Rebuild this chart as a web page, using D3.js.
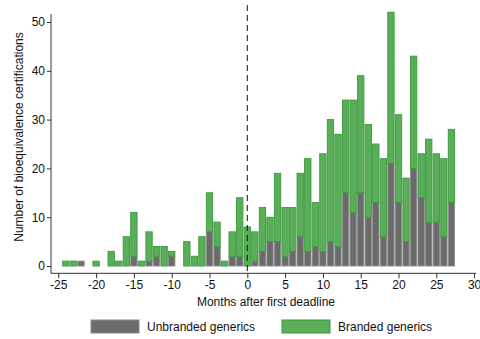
<!DOCTYPE html>
<html>
<head>
<meta charset="utf-8">
<script src="https://cdn.jsdelivr.net/npm/d3@7"></script>
<style>
  html, body { margin: 0; padding: 0; background: #fff; }
  svg { display: block; font-family: "Liberation Sans", Arial, Helvetica, sans-serif; }
</style>
</head>
<body>
<svg id="chart" width="480" height="339"></svg>
<script>
// Months relative to the first deadline
const months = d3.range(-24, 28);

// Certifications per month, unbranded generics
const unbranded = [
  0, 0, 1, 0, 0, 0, 0, 0, 0, 2, 0, 1, 2, 0, 2, 0, 0, 0, 0, 7, 4, 0, 2, 2,
  0, 1, 3, 5, 5, 2, 3, 6, 3, 4, 3, 5, 4, 15, 11, 15, 10, 13, 6, 21, 13, 5, 20, 14, 9, 9, 6, 13
];

// Certifications per month, branded generics
const branded = [
  1, 1, 0, 0, 1, 0, 3, 1, 6, 9, 1, 6, 2, 4, 1, 0, 5, 2, 6, 8, 5, 1, 5, 12,
  8, 6, 9, 5, 14, 10, 9, 13, 19, 9, 20, 25, 23, 19, 23, 24, 19, 12, 16, 31, 18, 13, 23, 9, 17, 14, 16, 15
];

const xTicks = [-25, -20, -15, -10, -5, 0, 5, 10, 15, 20, 25, 30];
const yTicks = [0, 10, 20, 30, 40, 50];
const seriesNames = ["Unbranded generics", "Branded generics"];
const seriesColors = { fill: ["#6b6b6b", "#5aae5a"], stroke: ["#8c8c8c", "#3a9a3a"] };

const svg = d3.select("#chart");

const x = d3.scaleLinear().domain([-25, 30]).range([58.3, 474.1]);
const y = d3.scaleLinear().domain([0, 50]).range([266, 22]);

const rows = months.map((m, i) => ({ month: m, unbranded: unbranded[i], branded: branded[i] }));
const stack = d3.stack().keys(["unbranded", "branded"])(rows);

const barW = (x(1) - x(0)) * 0.84;

// Stacked bars
stack.forEach((layer, li) => {
  svg.append("g")
    .selectAll("rect")
    .data(layer.filter(d => d[1] - d[0] > 0))
    .join("rect")
      .attr("x", d => x(d.data.month) - barW / 2)
      .attr("width", barW)
      .attr("y", d => y(d[1]))
      .attr("height", d => y(d[0]) - y(d[1]))
      .attr("fill", seriesColors.fill[li])
      .attr("stroke", seriesColors.stroke[li])
      .attr("stroke-width", 0.9);
});

// Reference line at the first deadline
svg.append("line")
  .attr("x1", x(0)).attr("x2", x(0))
  .attr("y1", 5).attr("y2", y(-1.5))
  .attr("stroke", "#111")
  .attr("stroke-width", 1)
  .attr("stroke-dasharray", "6,4");

// Axes
const axisLeftX = 51;
const axisBottomY = y(-1.5);
const plainFormat = d => String(d);

const gx = svg.append("g")
  .attr("transform", `translate(0,${axisBottomY})`)
  .call(d3.axisBottom(x).tickValues(xTicks).tickFormat(plainFormat)
    .tickSize(5).tickPadding(2).tickSizeOuter(0));
gx.select(".domain").attr("d", `M${axisLeftX},0H476`);

const gy = svg.append("g")
  .attr("transform", `translate(${axisLeftX},0)`)
  .call(d3.axisLeft(y).tickValues(yTicks).tickFormat(plainFormat)
    .tickSize(4).tickPadding(2).tickSizeOuter(0));
gy.select(".domain").attr("d", `M0,${y(51.65)}V${axisBottomY}`);

svg.selectAll(".tick text").attr("font-size", 12).attr("fill", "#111").attr("font-family", null);
svg.selectAll(".tick line").attr("stroke", "#333");
svg.selectAll(".domain").attr("stroke", "#333");

// Axis titles
svg.append("text")
  .attr("x", 266).attr("y", 306)
  .attr("text-anchor", "middle")
  .attr("font-size", 12).attr("fill", "#111")
  .text("Months after first deadline");

svg.append("text")
  .attr("transform", "translate(23,137) rotate(-90)")
  .attr("text-anchor", "middle")
  .attr("font-size", 12).attr("fill", "#111")
  .text("Number of bioequivalence certifications");

// Legend
const legendX = [91, 282];
seriesNames.forEach((name, i) => {
  const g = svg.append("g").attr("transform", `translate(${legendX[i]},320)`);
  g.append("rect")
    .attr("width", 48).attr("height", 13)
    .attr("fill", seriesColors.fill[i])
    .attr("stroke", seriesColors.stroke[i]);
  g.append("text")
    .attr("x", 56).attr("y", 11)
    .attr("font-size", 12).attr("fill", "#111")
    .text(name);
});
</script>
</body>
</html>
